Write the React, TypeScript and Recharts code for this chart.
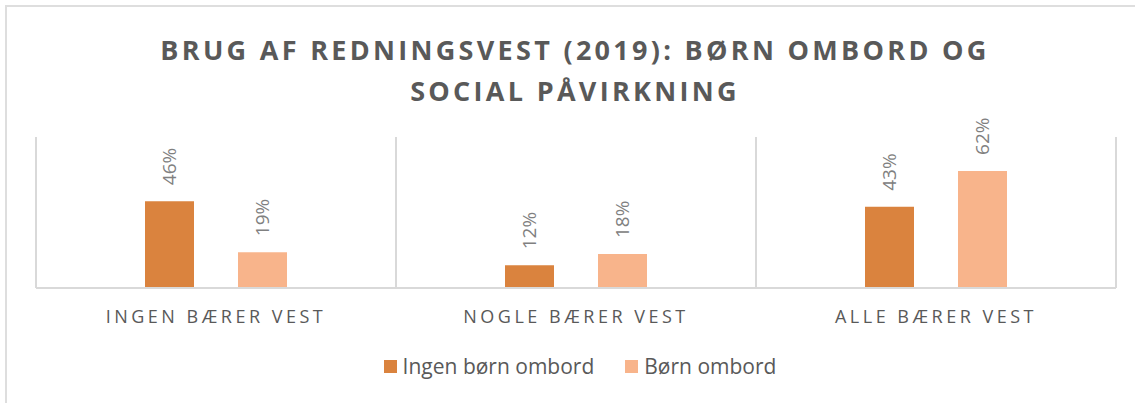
import React from 'react';
import { BarChart, Bar, XAxis, YAxis, CartesianGrid, LabelList } from 'recharts';

// Categories & series (shares of boats where people wear a life vest)
const categories = ['INGEN BÆRER VEST', 'NOGLE BÆRER VEST', 'ALLE BÆRER VEST'];
const ingenBornOmbord = [0.46, 0.12, 0.43];
const bornOmbord = [0.19, 0.18, 0.62];
const seriesNames = ['Ingen børn ombord', 'Børn ombord'];
const seriesColors = ['#DA833E', '#F8B48B'];
// category boundaries, in units of category index
const gridBoundaries = [0, 1, 2, 3];

const titleLines = ['BRUG AF REDNINGSVEST (2019): BØRN OMBORD OG', 'SOCIAL PÅVIRKNING'];

const FONT = '"Open Sans", "Noto Sans", sans-serif';

const chartData = categories.map((name, i) => ({
  name,
  ingen: ingenBornOmbord[i],
  born: bornOmbord[i],
}));

const renderValueLabel = (props: any) => {
  const { x, y, width, value } = props;
  const cx = Number(x) + Number(width) / 2;
  const ty = Number(y) - 16;
  return (
    <text
      x={cx}
      y={ty}
      transform={`rotate(-90, ${cx}, ${ty})`}
      textAnchor="start"
      dominantBaseline="central"
      fill="#808080"
      fontSize={19}
      fontFamily={FONT}
    >
      {Math.round(Number(value) * 100) + '%'}
    </text>
  );
};

const CategoryTick = (props: any) => {
  const { x, y, payload } = props;
  return (
    <text
      x={x}
      y={y + 27}
      textAnchor="middle"
      fill="#595959"
      fontSize={18}
      fontFamily={FONT}
      letterSpacing={3.5}
    >
      {payload.value}
    </text>
  );
};

// vertical separators between the categories (band edges)
const categoryEdges = ({ offset }: any) =>
  gridBoundaries.map(i => offset.left + (offset.width * i) / categories.length);

const App: React.FC = () => {
  return (
    <div style={{ position: 'absolute', left: 0, top: 0, width: 1135, height: 403, overflow: 'hidden', background: '#fff', fontFamily: FONT }}>
      {/* outer chart frame (only top/left visible in the crop) */}
      <div style={{ position: 'absolute', left: 5, top: 5, width: 1160, height: 430, border: '2px solid #DEDEDE' }} />

      {/* Title */}
      <div style={{ position: 'absolute', left: 0, top: 29, width: 1150, textAlign: 'center', color: '#595959', fontWeight: 700, fontSize: 27, letterSpacing: 3.3, lineHeight: '41px' }}>
        {titleLines.map(t => <div key={t}>{t}</div>)}
      </div>

      <div style={{ position: 'absolute', left: 0, top: 0 }}>
        <BarChart width={1135} height={403} data={chartData} margin={{ top: 137, right: 19, bottom: 85, left: 36 }} barSize={49} barGap={44}>
          <CartesianGrid horizontal={false} verticalCoordinatesGenerator={categoryEdges} stroke="#D9D9D9" strokeWidth={2} />
          <XAxis dataKey="name" height={30} axisLine={{ stroke: '#D9D9D9', strokeWidth: 2 }} tickLine={false} tick={<CategoryTick />} interval={0} />
          <YAxis hide domain={[0, 0.8]} />
          <Bar dataKey="ingen" name={seriesNames[0]} fill={seriesColors[0]} isAnimationActive={false}>
            <LabelList dataKey="ingen" content={renderValueLabel} />
          </Bar>
          <Bar dataKey="born" name={seriesNames[1]} fill={seriesColors[1]} isAnimationActive={false}>
            <LabelList dataKey="born" content={renderValueLabel} />
          </Bar>
        </BarChart>
      </div>

      {/* Legend */}
      <div style={{ position: 'absolute', left: 0, top: 352, width: 1160, display: 'flex', justifyContent: 'center', alignItems: 'center', color: '#595959', fontSize: 21 }}>
        {seriesNames.map((n, i) => (
          <div key={n} style={{ display: 'flex', alignItems: 'center', marginRight: i === 0 ? 31 : 0 }}>
            <span style={{ display: 'inline-block', width: 13, height: 13, background: seriesColors[i], marginRight: 6 }} />
            <span>{n}</span>
          </div>
        ))}
      </div>
    </div>
  );
};

export default App;
